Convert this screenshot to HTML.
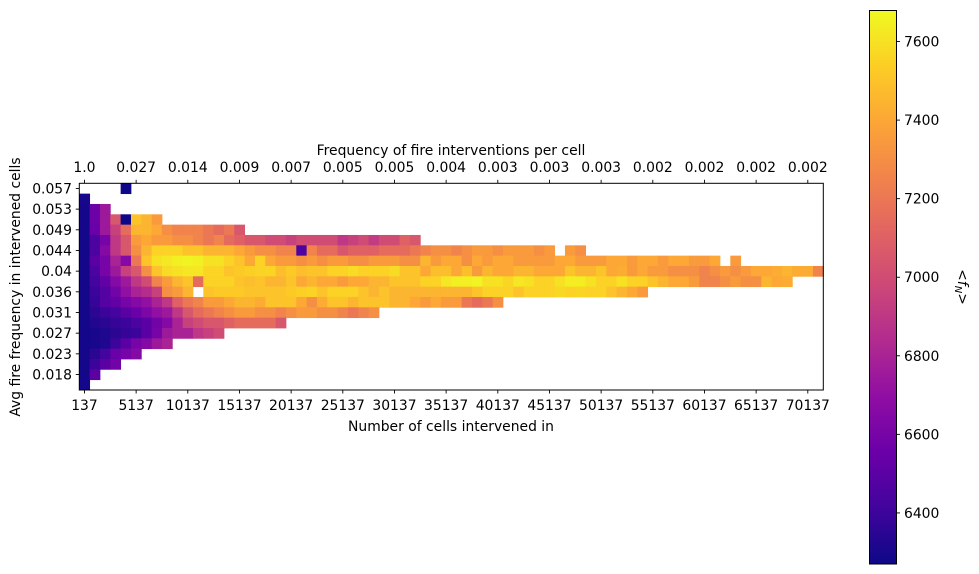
<!DOCTYPE html>
<html><head><meta charset="utf-8"><style>
body{margin:0;background:#fff;}
svg{display:block;font-family:"DejaVu Sans","Liberation Sans",sans-serif;}
</style></head><body>
<svg id="chart" width="979" height="574" viewBox="0 0 979 574">
<defs>
<linearGradient id="plasma" x1="0" y1="1" x2="0" y2="0">
<stop offset="0" stop-color="#0d0887"/><stop offset="0.1" stop-color="#41049d"/><stop offset="0.2" stop-color="#6a00a8"/><stop offset="0.3" stop-color="#8f0da4"/><stop offset="0.4" stop-color="#b12a90"/><stop offset="0.5" stop-color="#cc4778"/><stop offset="0.6" stop-color="#e16462"/><stop offset="0.7" stop-color="#f2844b"/><stop offset="0.8" stop-color="#fca636"/><stop offset="0.9" stop-color="#fcce25"/><stop offset="1" stop-color="#f0f921"/>
</linearGradient>
</defs>
<g id="cells"></g>
<rect x="79.3" y="183.3" width="744" height="206.7" fill="none" stroke="#000" stroke-width="1"/>
<g id="axes" font-size="13.9" fill="#000"></g>
<text x="451" y="155" font-size="13.9" text-anchor="middle">Frequency of fire interventions per cell</text>
<text x="451" y="431" font-size="13.9" text-anchor="middle">Number of cells intervened in</text>
<text transform="translate(20,287) rotate(-90)" font-size="13.9" text-anchor="middle">Avg fire frequency in intervened cells</text>
<rect x="869.5" y="10.5" width="27" height="553.5" fill="url(#plasma)" stroke="#000" stroke-width="1"/>
<g id="cbaxis" font-size="13.9"></g>
<text transform="translate(958,287) rotate(90)" font-size="13.9" text-anchor="middle" font-style="italic">&lt;f<tspan font-size="10" dy="3">N</tspan><tspan dy="-3">&gt;</tspan></text>
</svg>
<script>
const rows = [
[null,null,null,null,6270],
[6300],
[6290,6560,6750],
[6290,6560,6750,7050,6270,7500,7450,7350],
[6290,6550,6750,6950,7150,7450,7450,7400,7300,7250,7250,7250,7200,7150,7200,7050],
[6290,6450,6600,6900,7050,7350,7400,7350,7350,7300,7300,7250,7200,7250,7150,7100,7050,7050,7000,7000,6950,7000,7000,7000,7000,6900,6950,7000,6920,7000,7000,7100,7050],
[6290,6450,6650,6900,7050,7300,7450,7550,7550,7550,7500,7500,7450,7450,7450,7400,7350,7300,7300,7250,7250,6450,7250,7150,7150,7050,7100,7100,7100,7150,7150,7150,7200,7250,7300,7300,7250,7300,7350,7350,7300,7350,7350,7350,7300,7350,null,7350,7300],
[6290,6500,6600,6800,6650,7200,7500,7600,7620,7650,7660,7650,7600,7600,7550,7500,7400,7550,7400,7350,7350,7300,7350,7300,7350,7350,7300,7300,7350,7350,7350,7300,7300,7450,7350,7400,7400,7300,7400,7350,7400,7400,7350,7350,7350,7350,7400,7400,7350,7350,7350,7400,7400,7350,7400,7400,7350,7400,7400,7350,7350,7400,null,7350],
[6290,6450,6600,6750,6950,7050,7300,7500,7580,7600,7620,7620,7560,7560,7500,7520,7540,7550,7560,7480,7520,7480,7500,7500,7550,7550,7580,7550,7550,7550,7580,7500,7500,7400,7480,7480,7400,7480,7350,7450,7400,7400,7450,7450,7400,7400,7400,7500,7450,7450,7500,7400,7420,7350,7400,7350,7350,7300,7300,7300,7250,7300,7350,7300,7350,7400,7400,7420,7450,7420,7420,7250],
[6290,6420,6520,6650,6750,6900,7000,7250,7350,7450,7500,7150,7550,7550,7550,7500,7480,7500,7450,7450,7500,7400,7450,7400,7400,7350,7400,7400,7450,7450,7500,7500,7500,7550,7550,7620,7650,7650,7660,7600,7600,7560,7620,7600,7550,7550,7600,7640,7640,7600,7550,7550,7600,7550,7550,7500,7450,7400,7400,7350,7250,7250,7300,7350,7300,7300,7450,7400,7420],
[6290,6400,6480,6580,6700,6800,6850,6950,7300,7350,7450,null,7500,7520,7520,7520,7500,7500,7500,7500,7520,7540,7550,7500,7550,7550,7550,7500,7450,7500,7450,7450,7450,7450,7450,7450,7450,7450,7500,7550,7550,7550,7500,7550,7550,7550,7570,7550,7560,7550,7550,7500,7450,7400,7350],
[6290,6380,6480,6520,6600,6650,6700,6800,6900,7100,7200,7250,7350,7350,7400,7450,7450,7420,7500,7500,7500,7400,7300,7420,7500,7500,7450,7500,7500,7500,7450,7450,7400,7350,7400,7350,7350,7200,7150,7200,7300],
[6290,6350,6400,6420,6500,6550,6620,6700,6750,6900,7050,7150,7200,7250,7300,7350,7350,7300,7300,7250,7300,7350,7350,7300,7300,7250,7200,7250,7300],
[6290,6330,6350,6380,6400,6450,6500,6580,6650,6800,6950,7000,7050,7050,7100,7150,7150,7150,7150,7050],
[6290,6300,6320,6350,6380,6400,6500,6600,6750,6800,6800,6900,6950,7000],
[6290,6300,6320,6400,6500,6600,6650,6750,6800],
[6290,6350,6420,6550,6600,6650],
[6290,6400,6500,6580],
[6290,6500],
[6290]
];
const xTickLabels = ["137","5137","10137","15137","20137","25137","30137","35137","40137","45137","50137","55137","60137","65137","70137"];
const topTickLabels = ["1.0","0.027","0.014","0.009","0.007","0.005","0.005","0.004","0.003","0.003","0.003","0.002","0.002","0.002","0.002"];
const yTickLabels = ["0.057","0.053","0.049","0.044","0.04","0.036","0.031","0.027","0.023","0.018"];
const cbTicks = [6400,6600,6800,7000,7200,7400,7600];
const vmin = 6270, vmax = 7679;
const NC = 72, NR = 20;
const X0 = 79.3, CW = 744 / NC, Y0 = 183.3, CH = 206.7 / NR;
const stops = ["#0d0887","#41049d","#6a00a8","#8f0da4","#b12a90","#cc4778","#e16462","#f2844b","#fca636","#fcce25","#f0f921"];
function hex(h){return [1,3,5].map(i=>parseInt(h.substr(i,2),16));}
function color(v){
  let t = Math.max(0, Math.min(1, (v - vmin) / (vmax - vmin))) * 10;
  let i = Math.min(9, Math.floor(t)), f = t - i;
  let a = hex(stops[i]), b = hex(stops[i+1]);
  return "rgb(" + a.map((c,k)=>Math.round(c + (b[k]-c)*f)).join(",") + ")";
}
const xs = c => X0 + c * CW;
const ys = r => Y0 + r * CH;
const NS = "http://www.w3.org/2000/svg";
const cells = document.getElementById("cells");
rows.forEach((row, r) => row.forEach((v, c) => {
  if (v === null) return;
  const el = document.createElementNS(NS, "rect");
  el.setAttribute("x", xs(c)); el.setAttribute("y", ys(r));
  el.setAttribute("width", CW + 0.4); el.setAttribute("height", CH + 0.4);
  el.setAttribute("fill", color(v));
  
  
  cells.appendChild(el);
}));
const axes = document.getElementById("axes");
function line(g, x1, y1, x2, y2){
  const l = document.createElementNS(NS, "line");
  l.setAttribute("x1", x1); l.setAttribute("y1", y1); l.setAttribute("x2", x2); l.setAttribute("y2", y2);
  l.setAttribute("stroke", "#000"); l.setAttribute("stroke-width", "0.9");
  
  
  g.appendChild(l);
}
function text(g, x, y, s, anchor, name){
  const t = document.createElementNS(NS, "text");
  t.setAttribute("x", x); t.setAttribute("y", y); t.setAttribute("text-anchor", anchor);
  t.textContent = s;
  
  
  g.appendChild(t);
}
xTickLabels.forEach((s, i) => {
  const x = xs(i * 5 + 0.5);
  line(axes, x, 390, x, 393.5);
  text(axes, x, 410, s, "middle", "x-tick-label");
});
topTickLabels.forEach((s, i) => {
  const x = xs(i * 5 + 0.5);
  line(axes, x, 183.3, x, 179.8);
  text(axes, x, 172, s, "middle", "top-tick-label");
});
yTickLabels.forEach((s, i) => {
  const y = ys(i * 2 + 0.5);
  line(axes, 79.3, y, 75.8, y);
  text(axes, 72, y + 5, s, "end", "y-tick-label");
});
const cb = document.getElementById("cbaxis");
cbTicks.forEach(v => {
  const y = 564 - (v - vmin) / (vmax - vmin) * 553.5;
  line(cb, 896.5, y, 900, y);
  text(cb, 904, y + 5, String(v), "start", "colorbar-tick-label");
});
</script>
</body></html>
